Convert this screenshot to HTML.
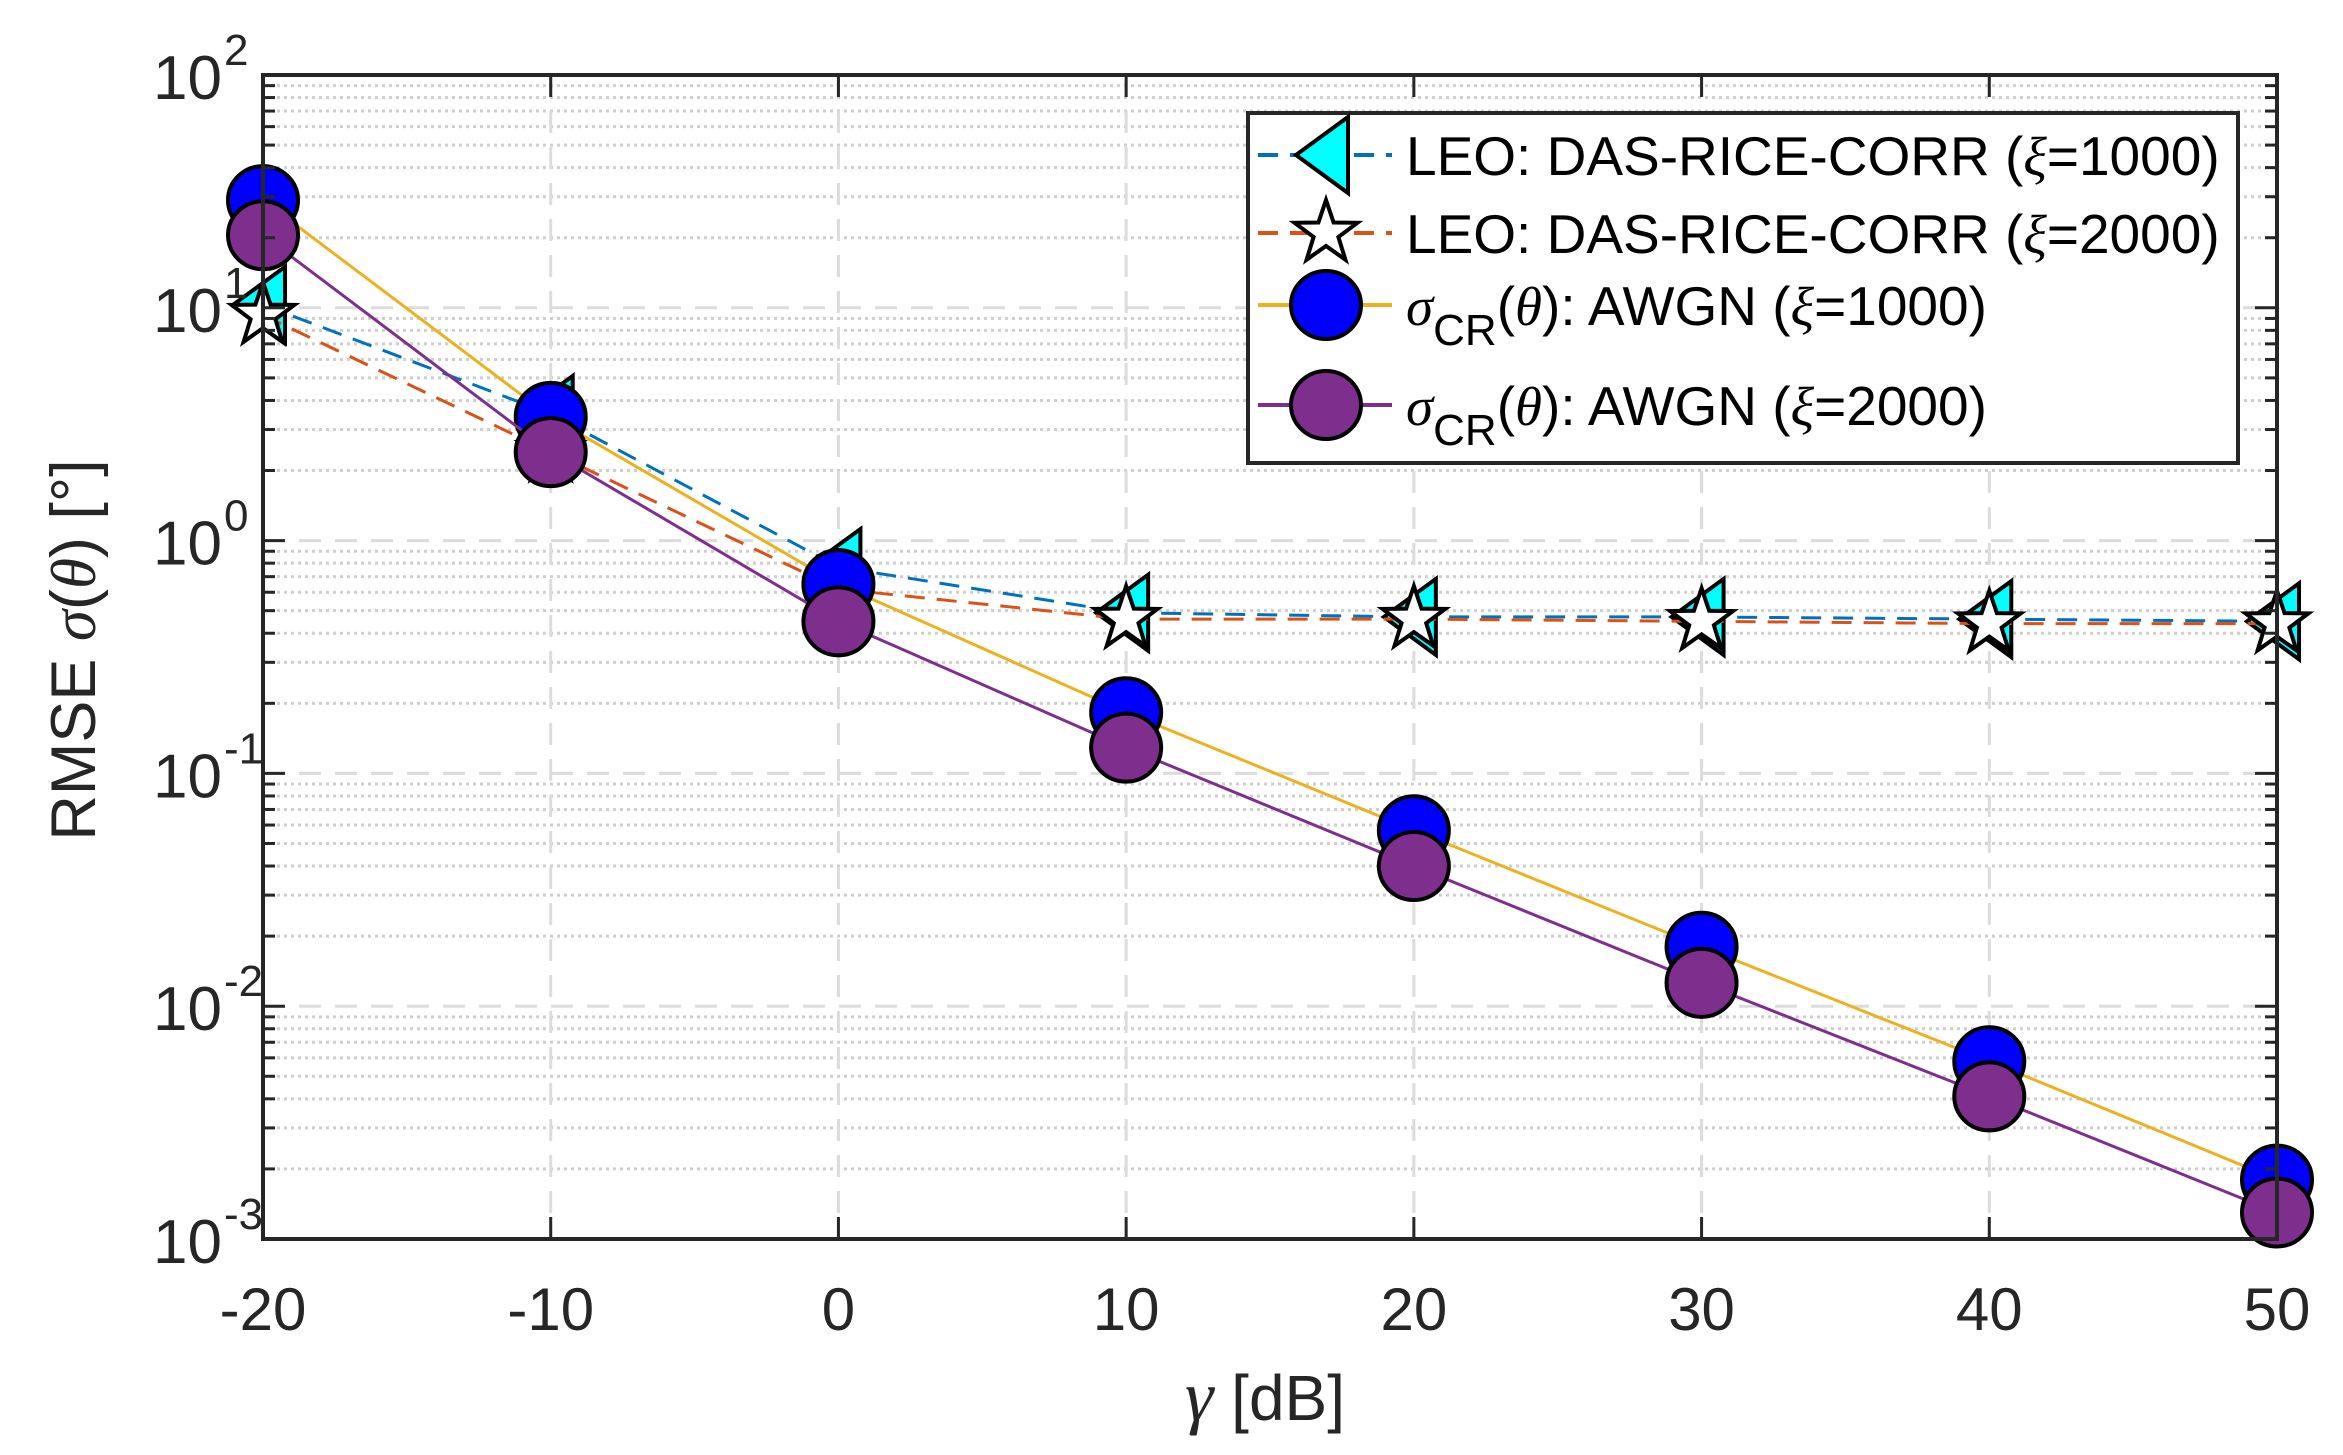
<!DOCTYPE html>
<html><head><meta charset="utf-8"><style>
html,body{margin:0;padding:0;background:#fff;}
svg{display:block;font-family:"Liberation Sans",sans-serif;}
</style></head><body>
<svg id="chart" width="2343" height="1455" viewBox="0 0 2343 1455" xmlns="http://www.w3.org/2000/svg">
<rect x="0" y="0" width="2343" height="1455" fill="#fff"/>
<g id="grid"></g>
<g id="series"></g>
<g id="axes"></g>
<text x="1265" y="1420" font-size="64" text-anchor="middle" fill="#262626"><tspan font-style="italic" font-family="Liberation Serif, serif" font-size="72">γ</tspan> [dB]</text>
<text transform="translate(95,650) rotate(-90)" font-size="63" text-anchor="middle" fill="#262626">RMSE <tspan font-style="italic" font-family="Liberation Serif, serif">σ</tspan>(<tspan font-style="italic" font-family="Liberation Serif, serif">θ</tspan>) [°]</text>
<g id="legend"></g>
</svg>
<script>
const xCats = [-20,-10,0,10,20,30,40,50];
const leo1000 = [10.3,3.5,0.77,0.49,0.47,0.47,0.46,0.45];
const leo2000 = [9.3,2.4,0.62,0.46,0.46,0.45,0.44,0.44];
const awgn1000 = [29,3.4,0.65,0.183,0.057,0.018,0.0058,0.0018];
const awgn2000 = [20.5,2.4,0.45,0.129,0.040,0.0126,0.0041,0.0013];
const yDecades = [-3,-2,-1,0,1,2];
const xTickLabels = ["-20","-10","0","10","20","30","40","50"];

const L=263,R=2277,T=75,B=1239;
const NS="http://www.w3.org/2000/svg";
function xs(v){return L+(v+20)/70*(R-L);}
function ys(v){return B-(Math.log10(v)+3)/5*(B-T);}
function mk(tag,attrs,parent){const e=document.createElementNS(NS,tag);for(const k in attrs)e.setAttribute(k,attrs[k]);parent.appendChild(e);return e;}
const grid=document.getElementById('grid'),series=document.getElementById('series'),axes=document.getElementById('axes'),legend=document.getElementById('legend');

for(let d=-3;d<2;d++){for(let m=2;m<=9;m++){const y=ys(m*Math.pow(10,d));
 const g=mk('line',{x1:L,x2:R,y1:y,y2:y,stroke:'#cfcfcf','stroke-width':3,'stroke-dasharray':'3 4'},grid);
 
 
 mk('line',{x1:L,x2:L+12,y1:y,y2:y,stroke:'#262626','stroke-width':3},axes);
 mk('line',{x1:R,x2:R-12,y1:y,y2:y,stroke:'#262626','stroke-width':3},axes);
}}
yDecades.forEach(d=>{const y=ys(Math.pow(10,d));
 const g=mk('line',{x1:L,x2:R,y1:y,y2:y,stroke:'#dcdcdc','stroke-width':3,'stroke-dasharray':'22 14'},grid);
 
 
 mk('line',{x1:L,x2:L+22,y1:y,y2:y,stroke:'#262626','stroke-width':3},axes);
 mk('line',{x1:R,x2:R-22,y1:y,y2:y,stroke:'#262626','stroke-width':3},axes);
 const t=mk('text',{x:222,y:y+24,'font-size':62,'text-anchor':'end',fill:'#262626'},axes);
 
 
 t.textContent='10';
 const s=mk('text',{x:224,y:y-10,'font-size':44,'text-anchor':'start',fill:'#262626'},axes);
 
 
 s.textContent=String(d);
});
xCats.forEach((c,i)=>{const x=xs(c);
 const g=mk('line',{x1:x,x2:x,y1:T,y2:B,stroke:'#dcdcdc','stroke-width':3,'stroke-dasharray':'22 14'},grid);
 
 
 mk('line',{x1:x,x2:x,y1:B,y2:B-22,stroke:'#262626','stroke-width':3},axes);
 mk('line',{x1:x,x2:x,y1:T,y2:T+22,stroke:'#262626','stroke-width':3},axes);
 const t=mk('text',{x:x,y:1330,'font-size':60,'text-anchor':'middle',fill:'#262626'},axes);
 
 
 t.textContent=xTickLabels[i];
});
const box=mk('rect',{x:L,y:T,width:R-L,height:B-T,fill:'none',stroke:'#262626','stroke-width':4},axes);



function tri(cx,cy,p){return mk('polygon',{points:`${cx-30},${cy} ${cx+22},${cy-38} ${cx+22},${cy+38}`,fill:'#00ffff',stroke:'#000','stroke-width':4},p);}
function star(cx,cy,p){let pts=[];for(let k=0;k<10;k++){const r=k%2?13:33;const a=-Math.PI/2+k*Math.PI/5;pts.push((cx+r*Math.cos(a)).toFixed(1)+','+(cy+r*Math.sin(a)).toFixed(1));}
 return mk('polygon',{points:pts.join(' '),fill:'#fff',stroke:'#000','stroke-width':4},p);}
function circ(cx,cy,col,p){return mk('ellipse',{cx:cx,cy:cy,rx:35,ry:34,fill:col,stroke:'#000','stroke-width':4},p);}

const defs=[
 {name:'leo-1000',data:leo1000,color:'#0072BD',dash:'20 12',m:'tri'},
 {name:'leo-2000',data:leo2000,color:'#D95319',dash:'20 12',m:'star'},
 {name:'awgn-1000',data:awgn1000,color:'#EDB120',dash:'',m:'blue'},
 {name:'awgn-2000',data:awgn2000,color:'#7E2F8E',dash:'',m:'purple'}];
defs.forEach(s=>{
 const g=mk('g',{},series);
 
 
 const pts=s.data.map((v,i)=>xs(xCats[i])+','+ys(v)).join(' ');
 const pl=mk('polyline',{points:pts,fill:'none',stroke:s.color,'stroke-width':3,'stroke-dasharray':s.dash},g);
 
 
 s.data.forEach((v,i)=>{const x=xs(xCats[i]),y=ys(v);let e;
  if(s.m==='tri')e=tri(x,y,g);else if(s.m==='star')e=star(x,y,g);else e=circ(x,y,s.m==='blue'?'#0000ff':'#7E2F8E',g);
  
  
 });
});

const lb=mk('rect',{x:1248,y:113,width:990,height:350,fill:'#fff',stroke:'#262626','stroke-width':4},legend);


const legY=[155,233,305,405];
const legText=[
 'LEO: DAS-RICE-CORR (<tspan font-style="italic" font-family="Liberation Serif, serif">ξ</tspan>=1000)',
 'LEO: DAS-RICE-CORR (<tspan font-style="italic" font-family="Liberation Serif, serif">ξ</tspan>=2000)',
 '<tspan font-style="italic" font-family="Liberation Serif, serif">σ</tspan><tspan dy="20" font-size="44">CR</tspan><tspan dy="-20">(</tspan><tspan font-style="italic" font-family="Liberation Serif, serif">θ</tspan>): AWGN (<tspan font-style="italic" font-family="Liberation Serif, serif">ξ</tspan>=1000)',
 '<tspan font-style="italic" font-family="Liberation Serif, serif">σ</tspan><tspan dy="20" font-size="44">CR</tspan><tspan dy="-20">(</tspan><tspan font-style="italic" font-family="Liberation Serif, serif">θ</tspan>): AWGN (<tspan font-style="italic" font-family="Liberation Serif, serif">ξ</tspan>=2000)'];
defs.forEach((s,i)=>{const y=legY[i];
 const g=mk('g',{},legend);
 
 
 mk('line',{x1:1258,x2:1392,y1:y,y2:y,stroke:s.color,'stroke-width':4,'stroke-dasharray':s.dash},g);
 if(s.m==='tri')tri(1326,y,g);else if(s.m==='star')star(1326,y,g);else circ(1326,y,s.m==='blue'?'#0000ff':'#7E2F8E',g);
 const t=mk('text',{x:1406,y:y+20,'font-size':55,fill:'#000'},g);
 t.innerHTML=legText[i];
});
</script>
</body></html>
